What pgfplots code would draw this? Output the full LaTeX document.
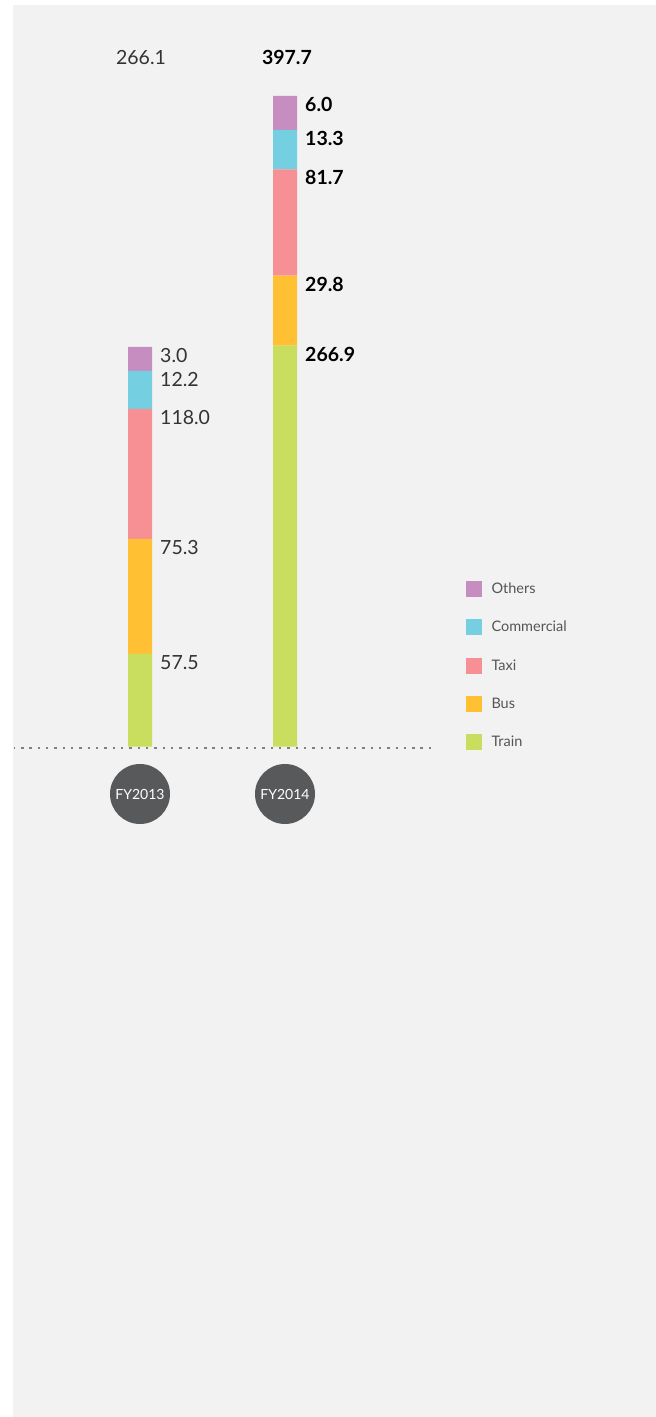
\documentclass[border=0pt]{standalone}
\usepackage{fontspec}
\setmainfont{Lato}
\usepackage{pgfplots}
\usepackage{pgfplotstable}
\pgfplotsset{compat=1.18}
\definecolor{bg}{HTML}{F1F2F1}
\definecolor{cOth}{HTML}{C68DC0}
\definecolor{cCom}{HTML}{74CFE1}
\definecolor{cTax}{HTML}{F69095}
\definecolor{cBus}{HTML}{FFC133}
\definecolor{cTra}{HTML}{C9DD5E}
\definecolor{circ}{HTML}{58595B}
\definecolor{lab}{HTML}{333333}
\definecolor{legtxt}{HTML}{555555}
\definecolor{dotc}{HTML}{808080}
\protected\def\bl#1{{\color{black}\bfseries #1}}
\pgfplotsset{sq/.style={legend image code/.code={\fill[##1,draw=none] (0pt,-8pt) rectangle (16pt,8pt);}}}
% drawn segment height (px) and printed value
\pgfplotstableread{
x   h     lab
140 92.7  57.5
285 401.0 \bl{266.9}
}\tTrain
\pgfplotstableread{
x   h     lab
140 115.0 75.3
285 70.0  \bl{29.8}
}\tBus
\pgfplotstableread{
x   h     lab
140 130.0 118.0
285 106.4 \bl{81.7}
}\tTaxi
\pgfplotstableread{
x   h     lab
140 38.0  12.2
285 39.3  \bl{13.3}
}\tCom
\pgfplotstableread{
x   h     lab
140 24.0  3.0
285 34.0  \bl{6.0}
}\tOth
\begin{document}
\begin{tikzpicture}[x=1pt,y=1pt]
\fill[white] (0,0) rectangle (656,1417);
\fill[bg] (13,0) rectangle (656,1412);
\begin{axis}[
  at={(13pt,670.3pt)}, anchor=south west,
  scale only axis, width=417pt, height=700pt,
  xmin=13, xmax=430, ymin=0, ymax=700,
  clip=false,
  axis lines=left, axis line style={draw=none},
  ytick=\empty, xtick={140,285}, xticklabels={FY2013,FY2014},
  major tick length=0pt,
  xticklabel style={circle, fill=circ, text=white, minimum size=60pt, inner sep=0pt, anchor=center, yshift=-47.3pt, font=\fontsize{14}{14}\selectfont},
  ybar stacked, bar width=24pt,
  nodes near coords, point meta=explicit symbolic,
  visualization depends on={\thisrow{h} \as \hh},
  every node near coord/.append style={anchor=north west, inner sep=0pt, xshift=20pt, yshift={0.5*\hh*1pt-1pt}, text=lab, font=\fontsize{19.5}{19.5}\selectfont},
  legend cell align=left, reverse legend,
  legend style={at={(1.08633,0.23671)}, anchor=north west, draw=none, fill=none, inner sep=0pt, outer sep=0pt, row sep=22.3pt, column sep=9.5pt, font=\fontsize{14.5}{14.5}\selectfont, text=legtxt, nodes={inner sep=0pt}},
]
\addplot[fill=cTra, draw=none, sq] table[x=x, y=h, meta=lab] {\tTrain};
\addplot[fill=cBus, draw=none, sq] table[x=x, y=h, meta=lab] {\tBus};
\addplot[fill=cTax, draw=none, sq] table[x=x, y=h, meta=lab] {\tTaxi};
\addplot[fill=cCom, draw=none, sq] table[x=x, y=h, meta=lab] {\tCom};
\addplot[fill=cOth, draw=none, sq] table[x=x, y=h, meta=lab] {\tOth};
\legend{Train,Bus,Taxi,Commercial,Others}
\draw[dotc, line width=2.4pt, dash pattern=on 2.4pt off 5.92pt, dash phase=1.2pt] (axis cs:14,-1.3) -- (axis cs:432,-1.3);
\node[anchor=north, inner sep=0pt, text=lab, font=\fontsize{19.5}{19.5}\selectfont] at (axis cs:141,696.7) {266.1};
\node[anchor=north, inner sep=0pt, font=\fontsize{19.5}{19.5}\selectfont\bfseries] at (axis cs:287,696.2) {397.7};
\end{axis}
\pgfresetboundingbox
\useasboundingbox (0,0) rectangle (656,1417);
\end{tikzpicture}
\end{document}
